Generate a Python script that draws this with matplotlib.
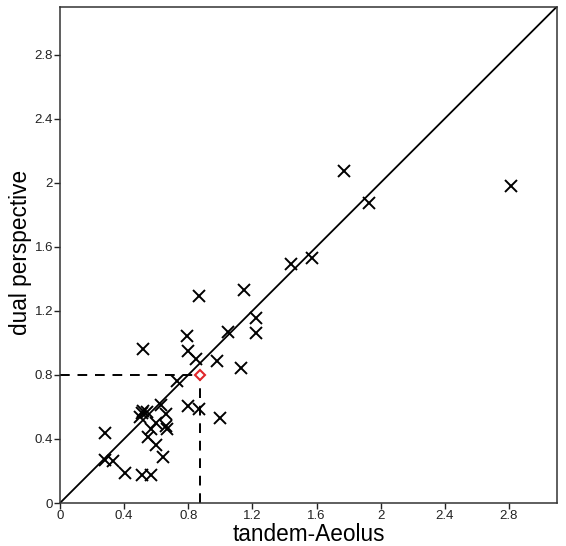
import matplotlib
matplotlib.use("Agg")
import matplotlib.pyplot as plt

plt.rcParams['font.family'] = ['Liberation Sans', 'DejaVu Sans']

tandem_aeolus = [0.28, 0.28, 0.33, 0.405, 0.51, 0.57, 0.50, 0.52, 0.545, 0.51,
                 0.52, 0.55, 0.565, 0.60, 0.60, 0.64, 0.63, 0.66, 0.66, 0.665,
                 0.73, 0.80, 0.87, 1.00, 0.79, 0.80, 0.85, 0.98, 1.13, 0.87,
                 1.05, 1.15, 1.22, 1.22, 1.44, 1.57, 1.77, 1.93, 2.81]
dual_perspective = [0.44, 0.27, 0.26, 0.19, 0.175, 0.175, 0.54, 0.575, 0.57, 0.56,
                    0.96, 0.415, 0.46, 0.50, 0.36, 0.29, 0.615, 0.555, 0.48, 0.465,
                    0.76, 0.605, 0.585, 0.53, 1.04, 0.95, 0.90, 0.885, 0.845, 1.29,
                    1.07, 1.33, 1.155, 1.06, 1.49, 1.53, 2.07, 1.87, 1.98]
highlight_x = 0.875
highlight_y = 0.80
ticks = [0, 0.4, 0.8, 1.2, 1.6, 2, 2.4, 2.8]
tick_labels = ["0", "0.4", "0.8", "1.2", "1.6", "2", "2.4", "2.8"]
lim = 3.1

fig = plt.figure(figsize=(5.66, 5.46), dpi=100)
ax = fig.add_axes([60/566, 1-503/546, 497/566, 496.5/546])

ax.plot([0, lim], [0, lim], color='black', lw=1.3, zorder=2)
ax.plot(tandem_aeolus, dual_perspective, linestyle='none', marker='x',
        color='black', markersize=8.5, markeredgewidth=1.4, zorder=3)
ax.plot([0, highlight_x], [highlight_y, highlight_y], color='black', lw=1.4,
        dashes=(5, 4), zorder=2)
ax.plot([highlight_x, highlight_x], [0, highlight_y], color='black', lw=1.4,
        dashes=(5, 4), zorder=2)
ax.plot([highlight_x], [highlight_y], linestyle='none', marker='D',
        markerfacecolor='white', markeredgecolor='#e0262a', markersize=5.5,
        markeredgewidth=1.5, zorder=4)

ax.set_xlim(0, lim)
ax.set_ylim(0, lim)
ax.set_xticks(ticks)
ax.set_xticklabels(tick_labels)
ax.set_yticks(ticks)
ax.set_yticklabels(tick_labels)
ax.tick_params(direction='out', length=4, width=1, labelsize=9.5, pad=1,
               colors='#222222')
for s in ax.spines.values():
    s.set_linewidth(1.1)
    s.set_color('#333333')

ax.set_xlabel('tandem-Aeolus', fontsize=16.3, va='baseline')
ax.xaxis.set_label_coords(0.5, -0.0775)
ax.set_ylabel('dual perspective', fontsize=16.3)
ax.yaxis.set_label_coords(-0.056, 0.505)

fig.savefig('out.png', dpi=100)
